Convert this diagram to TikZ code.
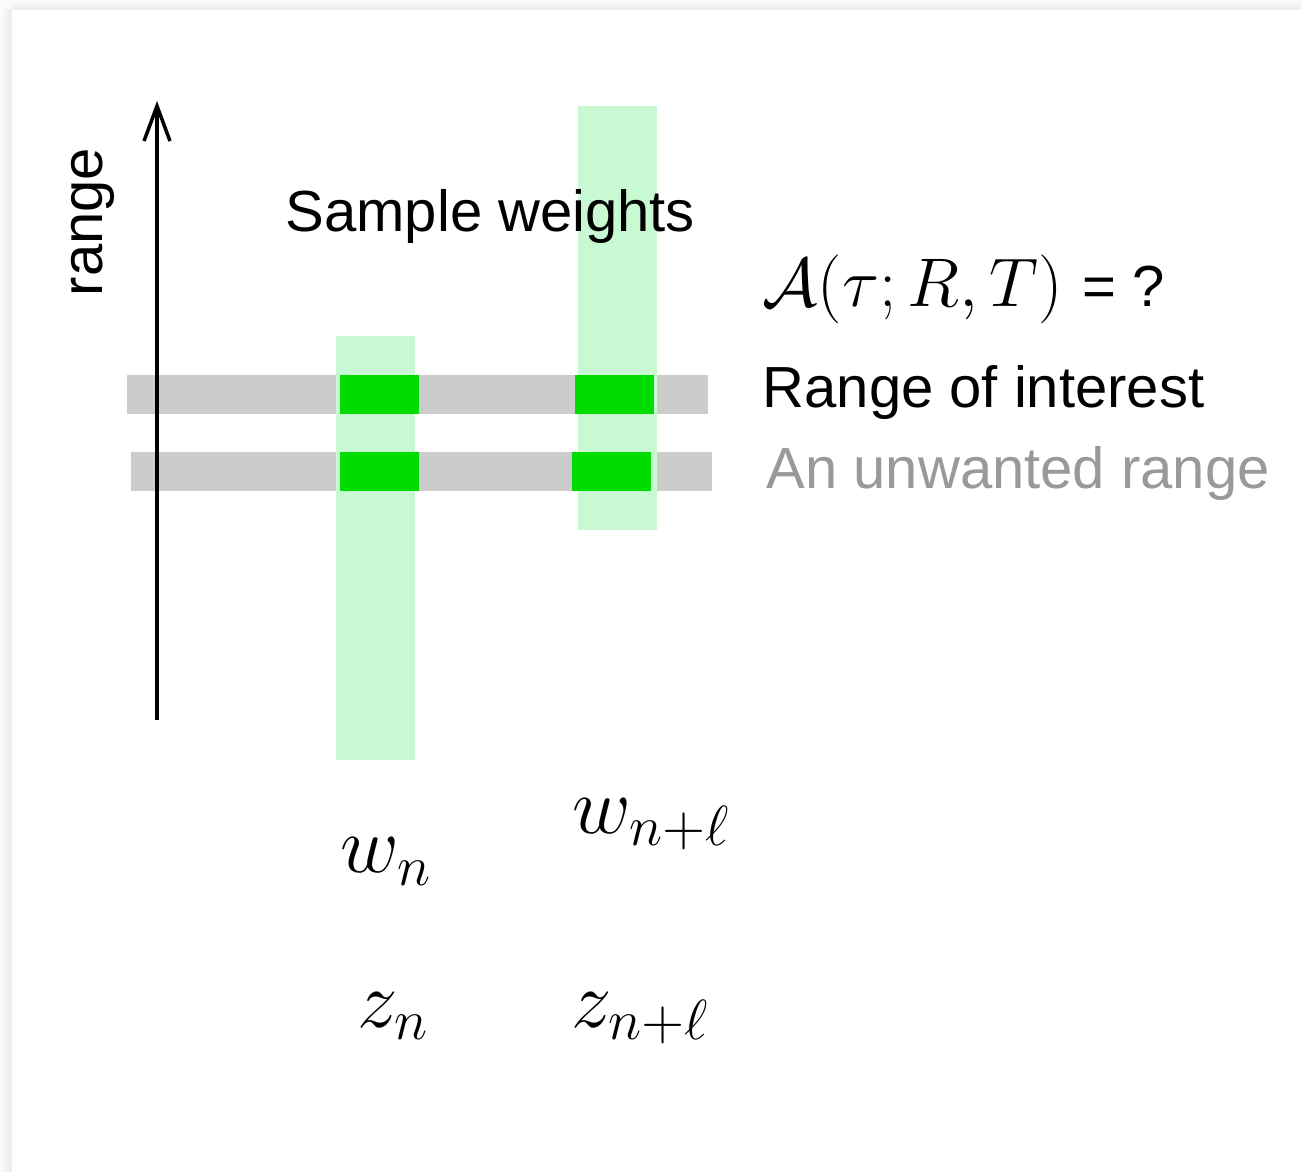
\documentclass[tikz,border=0pt]{standalone}
\usepackage{fix-cm}
\usepackage[no-math]{fontspec}
\newfontfamily\helv{Liberation Sans}
\usepackage{tikz}
\usetikzlibrary{arrows.meta}
\definecolor{gray2}{HTML}{CCCCCC}
\definecolor{gray3}{HTML}{999999}
\definecolor{green3}{HTML}{C9F9D3}
\definecolor{green4}{HTML}{00DC00}

\begin{document}
\begin{tikzpicture}[x=0.1mm,y=-0.1mm,
    rangebar/.style={fill=gray2,inner sep=0,outer sep=0,anchor=north west,
                     minimum width=58.1mm,minimum height=3.9mm},
    wcol/.style={fill=green3,inner sep=0,outer sep=0,anchor=north west,
                 minimum width=7.9mm,minimum height=42.4mm},
    hitbox/.style={fill=green4,inner sep=0,outer sep=0,anchor=north west,
                   minimum width=7.9mm,minimum height=3.9mm},
    lbl/.style={font=\helv\fontsize{16.5}{20}\selectfont,anchor=base west,inner sep=0},
    sym/.style={font=\fontsize{23}{28}\selectfont,anchor=base west,inner sep=0},
    arr/.style={-{Straight Barb[length=3.5mm,width=2.6mm]}, line width=1pt}
  ]
  \useasboundingbox (0,0) rectangle (1301,1172);
  % slide and its shadow
  \fill[gray!4] (0,0) rectangle (1301,1172);
  \shade[top color=gray!3,bottom color=gray!16] (12,0) rectangle (1301,10);
  \shade[left color=gray!3,right color=gray!16] (0,10) rectangle (12,1172);
  \fill[white] (12,10) rectangle (1301,1172);

  % ranges, weight columns, overlaps
  \node[rangebar] (roi) at (127,375) {};
  \node[rangebar] (unw) at (131,452) {};
  \node[wcol] (coln) at (336,336) {};
  \node[wcol] (colnl) at (578,106) {};
  \node[hitbox] (hitn1) at (340,375) {};
  \node[hitbox] (hitl1) at (575,375) {};
  \node[hitbox] (hitn2) at (340,452) {};
  \node[hitbox] (hitl2) at (572,452) {};

  % range axis
  \coordinate (axbot) at (157,720);
  \coordinate (axtop) at (157,101);
  \draw[arr] (axbot) -- (axtop);
  \node[lbl,rotate=90] (axlab) at (102,297) {range};

  \node[lbl] (swlab) at (285,232) {Sample weights};
  \node[lbl] (eqlab) at (762,307) {{\fontsize{19.6}{23}\selectfont$\mathcal{A}(\tau; R, T)$}\hspace{1pt} = ?};
  \node[lbl] (roilab) at (762,408) {Range of interest};
  \node[lbl,text=gray3] (unwlab) at (766,489) {An unwanted range};

  \node[sym] (wn) at (340,873) {$w_n$};
  \node[sym] (wnl) at (572,833) {$w_{n+\ell}$};
  \node[sym] (zn) at (357,1027) {$z_n$};
  \node[sym] (znl) at (571,1027) {$z_{n+\ell}$};
\end{tikzpicture}
\end{document}
